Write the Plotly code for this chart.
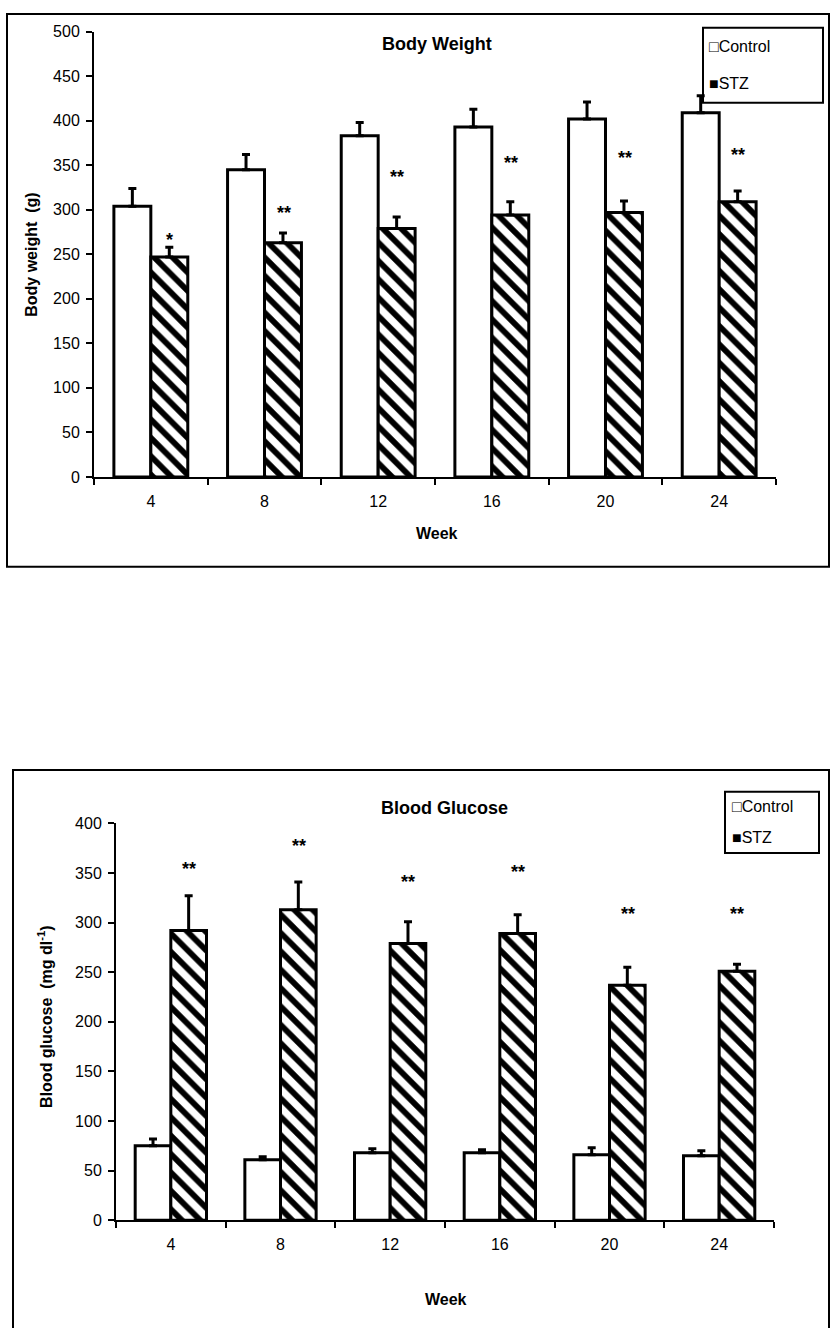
import plotly.graph_objects as go

weeks = ["4", "8", "12", "16", "20", "24"]

bw_control = [304, 345, 383, 393, 402, 409]
bw_control_err = [20, 17, 15, 20, 19, 19]
bw_stz = [247, 263, 279, 294, 297, 309]
bw_stz_err = [11, 11, 13, 15, 13, 12]
bw_sig = ["*", "**", "**", "**", "**", "**"]
bw_sig_level = [266, 296, 337, 352, 358, 361]

bg_control = [75, 61, 68, 68, 66, 65]
bg_control_err = [7, 3, 4, 3, 7, 5]
bg_stz = [292, 313, 279, 289, 237, 251]
bg_stz_err = [35, 28, 22, 19, 18, 7]
bg_sig = ["**", "**", "**", "**", "**", "**"]
bg_sig_level = [354, 377, 341, 351, 309, 309]

W, H = 831, 1328
FONT = "Liberation Sans, Arial, sans-serif"

def px(x):
    return x / W

def py(y):
    return 1 - y / H

fig = go.Figure()

def add_pair(ctrl, ctrl_err, stz, stz_err, xa, ya):
    fig.add_trace(go.Bar(
        x=weeks, y=ctrl, name="Control", xaxis=xa, yaxis=ya, showlegend=False,
        marker=dict(color="white", line=dict(color="black", width=3)),
        error_y=dict(type="data", array=ctrl_err, arrayminus=[0] * len(ctrl_err),
                     symmetric=False, color="black", thickness=3, width=4),
    ))
    fig.add_trace(go.Bar(
        x=weeks, y=stz, name="STZ", xaxis=xa, yaxis=ya, showlegend=False,
        marker=dict(color="white", line=dict(color="black", width=3),
                    pattern=dict(shape="\\", fgcolor="black", bgcolor="white",
                                 size=13, solidity=0.45, fillmode="replace")),
        error_y=dict(type="data", array=stz_err, arrayminus=[0] * len(stz_err),
                     symmetric=False, color="black", thickness=3, width=4),
    ))

add_pair(bw_control, bw_control_err, bw_stz, bw_stz_err, "x", "y")
add_pair(bg_control, bg_control_err, bg_stz, bg_stz_err, "x2", "y2")

axis_common = dict(showline=True, linecolor="black", linewidth=2, ticks="outside",
                   tickcolor="black", tickwidth=2, ticklen=6, showgrid=False,
                   zeroline=False, tickfont=dict(family=FONT, size=16, color="black"))

fig.update_layout(
    width=W, height=H, margin=dict(l=0, r=0, t=0, b=0),
    paper_bgcolor="white", plot_bgcolor="white",
    barmode="group", bargap=0.35, bargroupgap=0,
    font=dict(family=FONT, color="black"),
    xaxis=dict(domain=[px(94), px(776)], anchor="y", type="category",
               range=[-0.5, len(weeks) - 0.5], tickson="boundaries",
               ticklabelstandoff=9, **axis_common),
    yaxis=dict(domain=[py(475), py(24)], anchor="x", range=[0, 500], dtick=50,
               ticklabelstandoff=3, **axis_common),
    xaxis2=dict(domain=[px(116), px(774)], anchor="y2", type="category",
                range=[-0.5, len(weeks) - 0.5], tickson="boundaries",
                ticklabelstandoff=9, **axis_common),
    yaxis2=dict(domain=[py(1228), py(826)], anchor="x2", range=[0, 400], dtick=50,
                ticklabelstandoff=3, **axis_common),
)

ann = []
# significance stars
for i, w in enumerate(weeks):
    ann.append(dict(x=i, y=bw_sig_level[i], xref="x", yref="y",
                    text="<b>" + bw_sig[i] + "</b>", showarrow=False, xshift=19,
                    xanchor="center", yanchor="middle", font=dict(family=FONT, size=18)))
    ann.append(dict(x=i, y=bg_sig_level[i], xref="x2", yref="y2",
                    text="<b>" + bg_sig[i] + "</b>", showarrow=False, xshift=18,
                    xanchor="center", yanchor="middle", font=dict(family=FONT, size=18)))

def label(x, y, text, size=16, angle=0, xanchor="center"):
    ann.append(dict(x=px(x), y=py(y), xref="paper", yref="paper", text=text,
                    textangle=angle, showarrow=False, xanchor=xanchor, yanchor="middle",
                    font=dict(family=FONT, size=size)))

# titles
label(437, 36, "<b>Body Weight</b>", size=18)
label(444, 810, "<b>Blood Glucose</b>", size=18)
# axis titles
label(32, 250, "<b>Body weight  (g)</b>", angle=-90)
label(45, 1022, "<b>Blood glucose  (mg dl<sup>-1</sup>)</b>", angle=-90)
label(437, 532, "<b>Week</b>")
label(446, 1308, "<b>Week</b>")
# legends
label(707, 39, "□Control", xanchor="left")
label(707, 76, "■STZ", xanchor="left")
label(730, 809, "□Control", xanchor="left")
label(730, 840, "■STZ", xanchor="left")

fig.update_layout(annotations=ann)

shapes = [
    dict(type="rect", xref="paper", yref="paper", x0=px(7), x1=px(829), y0=py(566), y1=py(6),
         line=dict(color="black", width=2)),
    dict(type="rect", xref="paper", yref="paper", x0=px(13), x1=px(829), y0=py(1360), y1=py(772),
         line=dict(color="black", width=2)),
    dict(type="rect", xref="paper", yref="paper", x0=px(703), x1=px(823), y0=py(96), y1=py(20),
         line=dict(color="black", width=2)),
    dict(type="rect", xref="paper", yref="paper", x0=px(725), x1=px(819), y0=py(856), y1=py(794),
         line=dict(color="black", width=2)),
]
fig.update_layout(shapes=shapes)

fig.write_html("out.html", config={"displayModeBar": False},
               post_script="document.body.style.margin='0';document.body.style.overflow='hidden';")
